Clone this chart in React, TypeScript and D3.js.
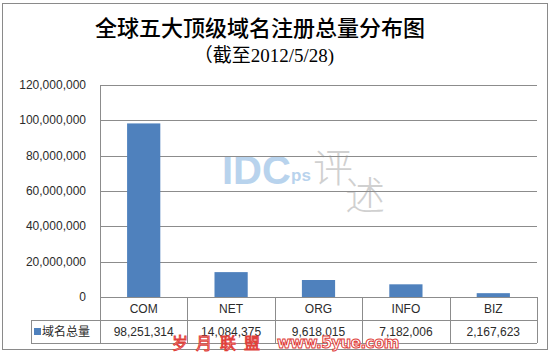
import React from "react";
import * as d3 from "d3";

const categories = ["COM", "NET", "ORG", "INFO", "BIZ"];
const values = [98251314, 14084375, 9618015, 7182006, 2167623];
const yTicks = [0, 20000000, 40000000, 60000000, 80000000, 100000000, 120000000];
const seriesName = "域名总量";
const title = "全球五大顶级域名注册总量分布图";
const subtitle = "（截至2012/5/28)";

const W = 554, H = 353;
const plot = { left: 100, right: 537, top: 85, bottom: 297 };
const rowH = 23;
const legendLeft = 31;
const barColor = "#4F81BD";
const gridColor = "#8c8c8c";
const textColor = "#2b2b2b";
const sans = "'Liberation Sans', Arial, sans-serif";
const cjk = "'Liberation Serif', 'Noto Sans CJK SC', serif";

export default function App() {
  const x = d3.scaleBand().domain(categories).range([plot.left, plot.right]).paddingInner(0.62).paddingOuter(0.31);
  const xCell = d3.scaleBand().domain(categories).range([plot.left, plot.right]);
  const y = d3.scaleLinear().domain([0, 120000000]).range([plot.bottom, plot.top]);
  const fmt = d3.format(",");
  const r1 = plot.bottom, r2 = plot.bottom + rowH, r3 = plot.bottom + 2 * rowH;

  return (
    <svg width={W} height={H} style={{ position: "absolute", left: 0, top: 0, display: "block" }}>
      <rect x={0} y={0} width={W} height={H} fill="#fff" />
      <rect x={2.5} y={3.5} width={545} height={346} fill="#fff" stroke="#8a8a8a" strokeWidth={1} />

      <text x={260} y={36} textAnchor="middle" fontFamily={cjk} fontSize={22} fontWeight={500} fill="#000">{title}</text>
      <text x={264} y={62} textAnchor="middle" fontFamily={cjk} fontSize={19} fill="#000">{subtitle}</text>

      {/* watermark IDCps 评述 */}
      <g opacity={0.55}>
        <text x={222} y={184} fontFamily={sans} fontWeight="bold" fontSize={40} fill="#7fb0e0">IDC</text>
        <text x={291} y={181} fontFamily={sans} fontWeight="bold" fontSize={17} fill="#7fb0e0">ps</text>
        <text x={313} y={182} fontFamily="'Noto Sans CJK SC'" fontWeight={300} fontSize={40} fill="#aaa">评</text>
        <text x={345} y={210} fontFamily="'Noto Sans CJK SC'" fontWeight={300} fontSize={40} fill="#aaa">述</text>
      </g>

      {/* gridlines */}
      {yTicks.map((t) => (
        <line key={t} x1={plot.left} x2={plot.right} y1={Math.round(y(t)) + 0.5} y2={Math.round(y(t)) + 0.5} stroke={gridColor} strokeWidth={1} />
      ))}
      {yTicks.map((t) => (
        <text key={"l" + t} x={86} y={Math.round(y(t)) + 4} textAnchor="end" fontFamily={sans} fontSize={12} fill={textColor}>{fmt(t)}</text>
      ))}
      <line x1={plot.left + 0.5} x2={plot.left + 0.5} y1={plot.top} y2={r3} stroke={gridColor} />

      {/* bars */}
      {categories.map((c, i) => (
        <rect key={c} x={x(c)} y={y(values[i])} width={x.bandwidth()} height={y(0) - y(values[i])} fill={barColor} />
      ))}

      {/* data table */}
      <line x1={legendLeft} x2={plot.right} y1={r2 + 0.5} y2={r2 + 0.5} stroke={gridColor} />
      <line x1={legendLeft} x2={plot.right} y1={r3 + 0.5} y2={r3 + 0.5} stroke={gridColor} />
      <line x1={legendLeft + 0.5} x2={legendLeft + 0.5} y1={r2} y2={r3} stroke={gridColor} />
      {categories.map((c) => (
        <line key={"v" + c} x1={Math.round(xCell(c)! + xCell.bandwidth()) + 0.5} x2={Math.round(xCell(c)! + xCell.bandwidth()) + 0.5} y1={r1} y2={r3} stroke={gridColor} />
      ))}
      {categories.map((c, i) => (
        <g key={"t" + c}>
          <text x={xCell(c)! + xCell.bandwidth() / 2} y={r1 + 16} textAnchor="middle" fontFamily={sans} fontSize={12} fill={textColor}>{c}</text>
          <text x={xCell(c)! + xCell.bandwidth() / 2} y={r2 + 16} textAnchor="middle" fontFamily={sans} fontSize={12} fill={textColor}>{fmt(values[i])}</text>
        </g>
      ))}
      <rect x={34} y={r2 + 8} width={7} height={7} fill={barColor} />
      <text x={42} y={r2 + 16} fontFamily="'Noto Sans CJK SC'" fontSize={12} fill={textColor}>{seriesName}</text>

      {/* red watermark */}
      <g fontFamily="'Noto Sans CJK SC'" fontSize={16} fill="#fff" stroke="#e0403a" strokeWidth={1}>
        <text x={172} y={349} letterSpacing={8}>岁月联盟</text>
        <text x={277} y={348} fontFamily="'DejaVu Sans'" fontWeight="bold" fontSize={15} letterSpacing={-0.5}>www.5yue.com</text>
      </g>
    </svg>
  );
}
